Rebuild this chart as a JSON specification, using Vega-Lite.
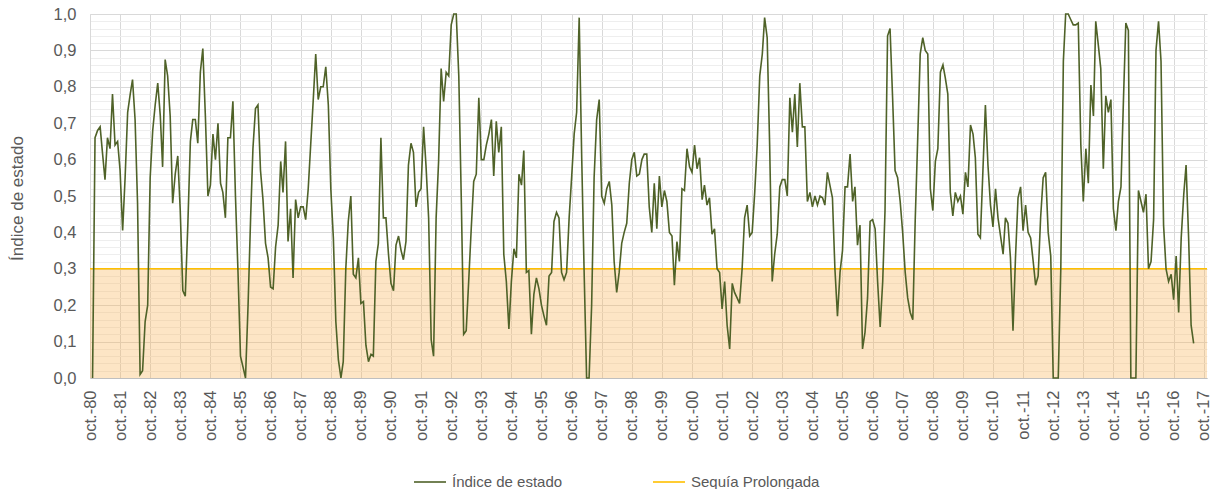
{
"$schema": "https://vega.github.io/schema/vega-lite/v6.json",
"width": 1117,
"height": 364,
"autosize": {"type": "none"},
"padding": {"left": 90, "top": 14, "right": 4, "bottom": 111},
"background": "white",
"config": {"view": {"stroke": null}, "font": "Liberation Sans"},
"layer": [
{
"data": {"values": [{"sequia": 0.3}]},
"mark": {"type": "rect", "color": "#F9B45A", "opacity": 0.35},
"encoding": {
"y": {"field": "sequia", "type": "quantitative", "scale": {"domain": [0, 1], "nice": false, "zero": true},
"axis": {"orient": "left", "values": [0.02,0.04,0.06,0.08,0.12,0.14,0.16,0.18,0.22,0.24,0.26,0.28,0.32,0.34,0.36,0.38,0.42,0.44,0.46,0.48,0.52,0.54,0.56,0.58,0.62,0.64,0.66,0.68,0.72,0.74,0.76,0.78,0.82,0.84,0.86,0.88,0.92,0.94,0.96,0.98],
"grid": true, "gridColor": "#EEEEEE", "gridWidth": 1, "labels": false, "ticks": false, "domain": false, "title": null}},
"y2": {"datum": 0}
}
},
{
"data": {"values": [{"sequia": 0.3}]},
"mark": {"type": "rule", "strokeWidth": 1.5},
"encoding": {
"y": {"field": "sequia", "type": "quantitative", "axis": null},
"color": {"datum": "Sequía Prolongada", "type": "nominal"}
}
},
{
"data": {"format": {"parse": {"fecha": "utc:'%Y-%m'"}}, "values": [
{"fecha":"1980-11","indice":0},{"fecha":"1980-12","indice":0.66},
{"fecha":"1981-01","indice":0.68},{"fecha":"1981-02","indice":0.69},{"fecha":"1981-03","indice":0.62},{"fecha":"1981-04","indice":0.545},{"fecha":"1981-05","indice":0.66},{"fecha":"1981-06","indice":0.63},{"fecha":"1981-07","indice":0.78},{"fecha":"1981-08","indice":0.64},{"fecha":"1981-09","indice":0.65},{"fecha":"1981-10","indice":0.57},{"fecha":"1981-11","indice":0.405},{"fecha":"1981-12","indice":0.55},
{"fecha":"1982-01","indice":0.73},{"fecha":"1982-02","indice":0.78},{"fecha":"1982-03","indice":0.82},{"fecha":"1982-04","indice":0.71},{"fecha":"1982-05","indice":0.48},{"fecha":"1982-06","indice":0.01},{"fecha":"1982-07","indice":0.02},{"fecha":"1982-08","indice":0.155},{"fecha":"1982-09","indice":0.2},{"fecha":"1982-10","indice":0.55},{"fecha":"1982-11","indice":0.68},{"fecha":"1982-12","indice":0.75},
{"fecha":"1983-01","indice":0.81},{"fecha":"1983-02","indice":0.72},{"fecha":"1983-03","indice":0.58},{"fecha":"1983-04","indice":0.875},{"fecha":"1983-05","indice":0.83},{"fecha":"1983-06","indice":0.72},{"fecha":"1983-07","indice":0.48},{"fecha":"1983-08","indice":0.56},{"fecha":"1983-09","indice":0.61},{"fecha":"1983-10","indice":0.46},{"fecha":"1983-11","indice":0.24},{"fecha":"1983-12","indice":0.225},
{"fecha":"1984-01","indice":0.42},{"fecha":"1984-02","indice":0.65},{"fecha":"1984-03","indice":0.71},{"fecha":"1984-04","indice":0.71},{"fecha":"1984-05","indice":0.645},{"fecha":"1984-06","indice":0.84},{"fecha":"1984-07","indice":0.905},{"fecha":"1984-08","indice":0.72},{"fecha":"1984-09","indice":0.5},{"fecha":"1984-10","indice":0.53},{"fecha":"1984-11","indice":0.67},{"fecha":"1984-12","indice":0.6},
{"fecha":"1985-01","indice":0.7},{"fecha":"1985-02","indice":0.535},{"fecha":"1985-03","indice":0.51},{"fecha":"1985-04","indice":0.44},{"fecha":"1985-05","indice":0.66},{"fecha":"1985-06","indice":0.66},{"fecha":"1985-07","indice":0.76},{"fecha":"1985-08","indice":0.5},{"fecha":"1985-09","indice":0.29},{"fecha":"1985-10","indice":0.06},{"fecha":"1985-11","indice":0.03},{"fecha":"1985-12","indice":0},
{"fecha":"1986-01","indice":0.2},{"fecha":"1986-02","indice":0.44},{"fecha":"1986-03","indice":0.63},{"fecha":"1986-04","indice":0.74},{"fecha":"1986-05","indice":0.75},{"fecha":"1986-06","indice":0.57},{"fecha":"1986-07","indice":0.49},{"fecha":"1986-08","indice":0.37},{"fecha":"1986-09","indice":0.33},{"fecha":"1986-10","indice":0.25},{"fecha":"1986-11","indice":0.245},{"fecha":"1986-12","indice":0.36},
{"fecha":"1987-01","indice":0.42},{"fecha":"1987-02","indice":0.595},{"fecha":"1987-03","indice":0.51},{"fecha":"1987-04","indice":0.65},{"fecha":"1987-05","indice":0.375},{"fecha":"1987-06","indice":0.465},{"fecha":"1987-07","indice":0.275},{"fecha":"1987-08","indice":0.49},{"fecha":"1987-09","indice":0.44},{"fecha":"1987-10","indice":0.47},{"fecha":"1987-11","indice":0.47},{"fecha":"1987-12","indice":0.435},
{"fecha":"1988-01","indice":0.52},{"fecha":"1988-02","indice":0.645},{"fecha":"1988-03","indice":0.76},{"fecha":"1988-04","indice":0.89},{"fecha":"1988-05","indice":0.765},{"fecha":"1988-06","indice":0.8},{"fecha":"1988-07","indice":0.8},{"fecha":"1988-08","indice":0.855},{"fecha":"1988-09","indice":0.75},{"fecha":"1988-10","indice":0.52},{"fecha":"1988-11","indice":0.385},{"fecha":"1988-12","indice":0.155},
{"fecha":"1989-01","indice":0.05},{"fecha":"1989-02","indice":0},{"fecha":"1989-03","indice":0.045},{"fecha":"1989-04","indice":0.3},{"fecha":"1989-05","indice":0.43},{"fecha":"1989-06","indice":0.5},{"fecha":"1989-07","indice":0.285},{"fecha":"1989-08","indice":0.275},{"fecha":"1989-09","indice":0.33},{"fecha":"1989-10","indice":0.205},{"fecha":"1989-11","indice":0.21},{"fecha":"1989-12","indice":0.09},
{"fecha":"1990-01","indice":0.045},{"fecha":"1990-02","indice":0.065},{"fecha":"1990-03","indice":0.06},{"fecha":"1990-04","indice":0.32},{"fecha":"1990-05","indice":0.37},{"fecha":"1990-06","indice":0.66},{"fecha":"1990-07","indice":0.44},{"fecha":"1990-08","indice":0.44},{"fecha":"1990-09","indice":0.34},{"fecha":"1990-10","indice":0.26},{"fecha":"1990-11","indice":0.24},{"fecha":"1990-12","indice":0.365},
{"fecha":"1991-01","indice":0.39},{"fecha":"1991-02","indice":0.35},{"fecha":"1991-03","indice":0.325},{"fecha":"1991-04","indice":0.375},{"fecha":"1991-05","indice":0.585},{"fecha":"1991-06","indice":0.645},{"fecha":"1991-07","indice":0.62},{"fecha":"1991-08","indice":0.47},{"fecha":"1991-09","indice":0.51},{"fecha":"1991-10","indice":0.52},{"fecha":"1991-11","indice":0.69},{"fecha":"1991-12","indice":0.58},
{"fecha":"1992-01","indice":0.44},{"fecha":"1992-02","indice":0.105},{"fecha":"1992-03","indice":0.06},{"fecha":"1992-04","indice":0.44},{"fecha":"1992-05","indice":0.595},{"fecha":"1992-06","indice":0.85},{"fecha":"1992-07","indice":0.76},{"fecha":"1992-08","indice":0.84},{"fecha":"1992-09","indice":0.83},{"fecha":"1992-10","indice":0.97},{"fecha":"1992-11","indice":1},{"fecha":"1992-12","indice":1},
{"fecha":"1993-01","indice":0.83},{"fecha":"1993-02","indice":0.485},{"fecha":"1993-03","indice":0.12},{"fecha":"1993-04","indice":0.13},{"fecha":"1993-05","indice":0.265},{"fecha":"1993-06","indice":0.41},{"fecha":"1993-07","indice":0.54},{"fecha":"1993-08","indice":0.56},{"fecha":"1993-09","indice":0.77},{"fecha":"1993-10","indice":0.6},{"fecha":"1993-11","indice":0.6},{"fecha":"1993-12","indice":0.64},
{"fecha":"1994-01","indice":0.67},{"fecha":"1994-02","indice":0.71},{"fecha":"1994-03","indice":0.555},{"fecha":"1994-04","indice":0.705},{"fecha":"1994-05","indice":0.62},{"fecha":"1994-06","indice":0.69},{"fecha":"1994-07","indice":0.34},{"fecha":"1994-08","indice":0.265},{"fecha":"1994-09","indice":0.135},{"fecha":"1994-10","indice":0.265},{"fecha":"1994-11","indice":0.355},{"fecha":"1994-12","indice":0.33},
{"fecha":"1995-01","indice":0.56},{"fecha":"1995-02","indice":0.53},{"fecha":"1995-03","indice":0.625},{"fecha":"1995-04","indice":0.29},{"fecha":"1995-05","indice":0.295},{"fecha":"1995-06","indice":0.12},{"fecha":"1995-07","indice":0.23},{"fecha":"1995-08","indice":0.275},{"fecha":"1995-09","indice":0.245},{"fecha":"1995-10","indice":0.2},{"fecha":"1995-11","indice":0.17},{"fecha":"1995-12","indice":0.145},
{"fecha":"1996-01","indice":0.28},{"fecha":"1996-02","indice":0.29},{"fecha":"1996-03","indice":0.43},{"fecha":"1996-04","indice":0.455},{"fecha":"1996-05","indice":0.44},{"fecha":"1996-06","indice":0.29},{"fecha":"1996-07","indice":0.27},{"fecha":"1996-08","indice":0.29},{"fecha":"1996-09","indice":0.44},{"fecha":"1996-10","indice":0.55},{"fecha":"1996-11","indice":0.67},{"fecha":"1996-12","indice":0.73},
{"fecha":"1997-01","indice":0.99},{"fecha":"1997-02","indice":0.6},{"fecha":"1997-03","indice":0.3},{"fecha":"1997-04","indice":0},{"fecha":"1997-05","indice":0},{"fecha":"1997-06","indice":0.2},{"fecha":"1997-07","indice":0.55},{"fecha":"1997-08","indice":0.71},{"fecha":"1997-09","indice":0.765},{"fecha":"1997-10","indice":0.5},{"fecha":"1997-11","indice":0.48},{"fecha":"1997-12","indice":0.52},
{"fecha":"1998-01","indice":0.54},{"fecha":"1998-02","indice":0.475},{"fecha":"1998-03","indice":0.32},{"fecha":"1998-04","indice":0.235},{"fecha":"1998-05","indice":0.29},{"fecha":"1998-06","indice":0.37},{"fecha":"1998-07","indice":0.4},{"fecha":"1998-08","indice":0.425},{"fecha":"1998-09","indice":0.535},{"fecha":"1998-10","indice":0.6},{"fecha":"1998-11","indice":0.62},{"fecha":"1998-12","indice":0.555},
{"fecha":"1999-01","indice":0.56},{"fecha":"1999-02","indice":0.6},{"fecha":"1999-03","indice":0.615},{"fecha":"1999-04","indice":0.615},{"fecha":"1999-05","indice":0.47},{"fecha":"1999-06","indice":0.4},{"fecha":"1999-07","indice":0.535},{"fecha":"1999-08","indice":0.41},{"fecha":"1999-09","indice":0.555},{"fecha":"1999-10","indice":0.47},{"fecha":"1999-11","indice":0.515},{"fecha":"1999-12","indice":0.485},
{"fecha":"2000-01","indice":0.4},{"fecha":"2000-02","indice":0.39},{"fecha":"2000-03","indice":0.255},{"fecha":"2000-04","indice":0.375},{"fecha":"2000-05","indice":0.32},{"fecha":"2000-06","indice":0.52},{"fecha":"2000-07","indice":0.515},{"fecha":"2000-08","indice":0.63},{"fecha":"2000-09","indice":0.58},{"fecha":"2000-10","indice":0.565},{"fecha":"2000-11","indice":0.64},{"fecha":"2000-12","indice":0.575},
{"fecha":"2001-01","indice":0.605},{"fecha":"2001-02","indice":0.49},{"fecha":"2001-03","indice":0.53},{"fecha":"2001-04","indice":0.475},{"fecha":"2001-05","indice":0.495},{"fecha":"2001-06","indice":0.395},{"fecha":"2001-07","indice":0.41},{"fecha":"2001-08","indice":0.3},{"fecha":"2001-09","indice":0.29},{"fecha":"2001-10","indice":0.19},{"fecha":"2001-11","indice":0.265},{"fecha":"2001-12","indice":0.145},
{"fecha":"2002-01","indice":0.08},{"fecha":"2002-02","indice":0.26},{"fecha":"2002-03","indice":0.235},{"fecha":"2002-04","indice":0.22},{"fecha":"2002-05","indice":0.205},{"fecha":"2002-06","indice":0.3},{"fecha":"2002-07","indice":0.44},{"fecha":"2002-08","indice":0.475},{"fecha":"2002-09","indice":0.39},{"fecha":"2002-10","indice":0.4},{"fecha":"2002-11","indice":0.51},{"fecha":"2002-12","indice":0.64},
{"fecha":"2003-01","indice":0.83},{"fecha":"2003-02","indice":0.89},{"fecha":"2003-03","indice":0.99},{"fecha":"2003-04","indice":0.935},{"fecha":"2003-05","indice":0.64},{"fecha":"2003-06","indice":0.265},{"fecha":"2003-07","indice":0.34},{"fecha":"2003-08","indice":0.395},{"fecha":"2003-09","indice":0.525},{"fecha":"2003-10","indice":0.545},{"fecha":"2003-11","indice":0.545},{"fecha":"2003-12","indice":0.5},
{"fecha":"2004-01","indice":0.77},{"fecha":"2004-02","indice":0.675},{"fecha":"2004-03","indice":0.78},{"fecha":"2004-04","indice":0.635},{"fecha":"2004-05","indice":0.81},{"fecha":"2004-06","indice":0.69},{"fecha":"2004-07","indice":0.69},{"fecha":"2004-08","indice":0.485},{"fecha":"2004-09","indice":0.51},{"fecha":"2004-10","indice":0.47},{"fecha":"2004-11","indice":0.5},{"fecha":"2004-12","indice":0.475},
{"fecha":"2005-01","indice":0.5},{"fecha":"2005-02","indice":0.495},{"fecha":"2005-03","indice":0.475},{"fecha":"2005-04","indice":0.565},{"fecha":"2005-05","indice":0.53},{"fecha":"2005-06","indice":0.495},{"fecha":"2005-07","indice":0.3},{"fecha":"2005-08","indice":0.17},{"fecha":"2005-09","indice":0.29},{"fecha":"2005-10","indice":0.35},{"fecha":"2005-11","indice":0.525},{"fecha":"2005-12","indice":0.525},
{"fecha":"2006-01","indice":0.615},{"fecha":"2006-02","indice":0.485},{"fecha":"2006-03","indice":0.525},{"fecha":"2006-04","indice":0.365},{"fecha":"2006-05","indice":0.42},{"fecha":"2006-06","indice":0.08},{"fecha":"2006-07","indice":0.125},{"fecha":"2006-08","indice":0.22},{"fecha":"2006-09","indice":0.43},{"fecha":"2006-10","indice":0.435},{"fecha":"2006-11","indice":0.41},{"fecha":"2006-12","indice":0.265},
{"fecha":"2007-01","indice":0.14},{"fecha":"2007-02","indice":0.265},{"fecha":"2007-03","indice":0.46},{"fecha":"2007-04","indice":0.94},{"fecha":"2007-05","indice":0.96},{"fecha":"2007-06","indice":0.77},{"fecha":"2007-07","indice":0.57},{"fecha":"2007-08","indice":0.55},{"fecha":"2007-09","indice":0.485},{"fecha":"2007-10","indice":0.4},{"fecha":"2007-11","indice":0.29},{"fecha":"2007-12","indice":0.22},
{"fecha":"2008-01","indice":0.18},{"fecha":"2008-02","indice":0.16},{"fecha":"2008-03","indice":0.43},{"fecha":"2008-04","indice":0.66},{"fecha":"2008-05","indice":0.89},{"fecha":"2008-06","indice":0.935},{"fecha":"2008-07","indice":0.9},{"fecha":"2008-08","indice":0.89},{"fecha":"2008-09","indice":0.52},{"fecha":"2008-10","indice":0.46},{"fecha":"2008-11","indice":0.595},{"fecha":"2008-12","indice":0.63},
{"fecha":"2009-01","indice":0.84},{"fecha":"2009-02","indice":0.86},{"fecha":"2009-03","indice":0.825},{"fecha":"2009-04","indice":0.78},{"fecha":"2009-05","indice":0.51},{"fecha":"2009-06","indice":0.445},{"fecha":"2009-07","indice":0.51},{"fecha":"2009-08","indice":0.485},{"fecha":"2009-09","indice":0.5},{"fecha":"2009-10","indice":0.45},{"fecha":"2009-11","indice":0.565},{"fecha":"2009-12","indice":0.525},
{"fecha":"2010-01","indice":0.695},{"fecha":"2010-02","indice":0.67},{"fecha":"2010-03","indice":0.605},{"fecha":"2010-04","indice":0.395},{"fecha":"2010-05","indice":0.385},{"fecha":"2010-06","indice":0.57},{"fecha":"2010-07","indice":0.75},{"fecha":"2010-08","indice":0.585},{"fecha":"2010-09","indice":0.475},{"fecha":"2010-10","indice":0.415},{"fecha":"2010-11","indice":0.52},{"fecha":"2010-12","indice":0.44},
{"fecha":"2011-01","indice":0.39},{"fecha":"2011-02","indice":0.34},{"fecha":"2011-03","indice":0.44},{"fecha":"2011-04","indice":0.425},{"fecha":"2011-05","indice":0.33},{"fecha":"2011-06","indice":0.13},{"fecha":"2011-07","indice":0.33},{"fecha":"2011-08","indice":0.495},{"fecha":"2011-09","indice":0.525},{"fecha":"2011-10","indice":0.405},{"fecha":"2011-11","indice":0.475},{"fecha":"2011-12","indice":0.4},
{"fecha":"2012-01","indice":0.385},{"fecha":"2012-02","indice":0.32},{"fecha":"2012-03","indice":0.255},{"fecha":"2012-04","indice":0.28},{"fecha":"2012-05","indice":0.44},{"fecha":"2012-06","indice":0.55},{"fecha":"2012-07","indice":0.565},{"fecha":"2012-08","indice":0.4},{"fecha":"2012-09","indice":0.335},{"fecha":"2012-10","indice":0},{"fecha":"2012-11","indice":0},{"fecha":"2012-12","indice":0},
{"fecha":"2013-01","indice":0.3},{"fecha":"2013-02","indice":0.87},{"fecha":"2013-03","indice":1},{"fecha":"2013-04","indice":1},{"fecha":"2013-05","indice":0.985},{"fecha":"2013-06","indice":0.97},{"fecha":"2013-07","indice":0.97},{"fecha":"2013-08","indice":0.975},{"fecha":"2013-09","indice":0.64},{"fecha":"2013-10","indice":0.485},{"fecha":"2013-11","indice":0.63},{"fecha":"2013-12","indice":0.535},
{"fecha":"2014-01","indice":0.805},{"fecha":"2014-02","indice":0.72},{"fecha":"2014-03","indice":0.98},{"fecha":"2014-04","indice":0.915},{"fecha":"2014-05","indice":0.85},{"fecha":"2014-06","indice":0.575},{"fecha":"2014-07","indice":0.775},{"fecha":"2014-08","indice":0.73},{"fecha":"2014-09","indice":0.765},{"fecha":"2014-10","indice":0.465},{"fecha":"2014-11","indice":0.405},{"fecha":"2014-12","indice":0.485},
{"fecha":"2015-01","indice":0.525},{"fecha":"2015-02","indice":0.77},{"fecha":"2015-03","indice":0.975},{"fecha":"2015-04","indice":0.955},{"fecha":"2015-05","indice":0},{"fecha":"2015-06","indice":0},{"fecha":"2015-07","indice":0},{"fecha":"2015-08","indice":0.515},{"fecha":"2015-09","indice":0.485},{"fecha":"2015-10","indice":0.455},{"fecha":"2015-11","indice":0.505},{"fecha":"2015-12","indice":0.3},
{"fecha":"2016-01","indice":0.32},{"fecha":"2016-02","indice":0.435},{"fecha":"2016-03","indice":0.9},{"fecha":"2016-04","indice":0.98},{"fecha":"2016-05","indice":0.87},{"fecha":"2016-06","indice":0.42},{"fecha":"2016-07","indice":0.3},{"fecha":"2016-08","indice":0.265},{"fecha":"2016-09","indice":0.285},{"fecha":"2016-10","indice":0.215},{"fecha":"2016-11","indice":0.335},{"fecha":"2016-12","indice":0.18},
{"fecha":"2017-01","indice":0.385},{"fecha":"2017-02","indice":0.505},{"fecha":"2017-03","indice":0.585},{"fecha":"2017-04","indice":0.385},{"fecha":"2017-05","indice":0.145},{"fecha":"2017-06","indice":0.095}
]},
"mark": {"type": "line", "strokeWidth": 1.6, "interpolate": "linear"},
"encoding": {
"x": {"field": "fecha", "type": "temporal",
"scale": {"type": "utc", "domain": [{"year": 1980, "month": 10, "date": 1, "utc": true}, {"year": 2017, "month": 11, "date": 10, "utc": true}]},
"axis": {"values": [
{"year":1980,"month":10,"date":1,"utc":true},{"year":1981,"month":10,"date":1,"utc":true},{"year":1982,"month":10,"date":1,"utc":true},{"year":1983,"month":10,"date":1,"utc":true},{"year":1984,"month":10,"date":1,"utc":true},{"year":1985,"month":10,"date":1,"utc":true},{"year":1986,"month":10,"date":1,"utc":true},{"year":1987,"month":10,"date":1,"utc":true},{"year":1988,"month":10,"date":1,"utc":true},{"year":1989,"month":10,"date":1,"utc":true},
{"year":1990,"month":10,"date":1,"utc":true},{"year":1991,"month":10,"date":1,"utc":true},{"year":1992,"month":10,"date":1,"utc":true},{"year":1993,"month":10,"date":1,"utc":true},{"year":1994,"month":10,"date":1,"utc":true},{"year":1995,"month":10,"date":1,"utc":true},{"year":1996,"month":10,"date":1,"utc":true},{"year":1997,"month":10,"date":1,"utc":true},{"year":1998,"month":10,"date":1,"utc":true},{"year":1999,"month":10,"date":1,"utc":true},
{"year":2000,"month":10,"date":1,"utc":true},{"year":2001,"month":10,"date":1,"utc":true},{"year":2002,"month":10,"date":1,"utc":true},{"year":2003,"month":10,"date":1,"utc":true},{"year":2004,"month":10,"date":1,"utc":true},{"year":2005,"month":10,"date":1,"utc":true},{"year":2006,"month":10,"date":1,"utc":true},{"year":2007,"month":10,"date":1,"utc":true},{"year":2008,"month":10,"date":1,"utc":true},{"year":2009,"month":10,"date":1,"utc":true},
{"year":2010,"month":10,"date":1,"utc":true},{"year":2011,"month":10,"date":1,"utc":true},{"year":2012,"month":10,"date":1,"utc":true},{"year":2013,"month":10,"date":1,"utc":true},{"year":2014,"month":10,"date":1,"utc":true},{"year":2015,"month":10,"date":1,"utc":true},{"year":2016,"month":10,"date":1,"utc":true},{"year":2017,"month":10,"date":1,"utc":true}],
"labelExpr": "'oct.-' + utcFormat(datum.value, '%y')",
"labelAngle": -90, "labelFont": "Liberation Sans", "labelFontSize": 16.5, "labelColor": "#595959", "labelPadding": 12,
"labelOverlap": false, "labelFlush": false,
"grid": true, "gridColor": "#D9D9D9", "ticks": false, "domain": true, "domainColor": "#BFBFBF", "title": null}},
"y": {"field": "indice", "type": "quantitative",
"axis": {"orient": "left", "values": [0, 0.1, 0.2, 0.3, 0.4, 0.5, 0.6, 0.7, 0.8, 0.9, 1],
"labelExpr": "replace(format(datum.value, '.1f'), '.', ',')",
"labelFont": "Liberation Sans", "labelFontSize": 16.5, "labelColor": "#595959", "labelPadding": 14,
"grid": true, "gridColor": "#D9D9D9", "ticks": false, "domain": true, "domainColor": "#D9D9D9",
"title": "Índice de estado", "titleFont": "Liberation Sans", "titleFontSize": 17, "titleFontWeight": "normal", "titleColor": "#595959",
"titleAngle": -90, "titleX": -73, "titleY": 184, "titleAlign": "center", "titleBaseline": "middle"}},
"color": {"datum": "Índice de estado", "type": "nominal",
"scale": {"domain": ["Índice de estado", "Sequía Prolongada"], "range": ["#4F6228", "#FFC000"]},
"legend": {"orient": "none", "legendX": 323, "legendY": 451, "direction": "horizontal", "title": null,
"symbolType": "stroke", "symbolSize": 1024, "symbolStrokeWidth": 1.6, "labelFont": "Liberation Sans", "labelFontSize": 15, "labelColor": "#595959",
"labelOffset": 5, "columnPadding": 86, "padding": 0}}
}
}
],
"resolve": {"axis": {"y": "independent"}}
}
